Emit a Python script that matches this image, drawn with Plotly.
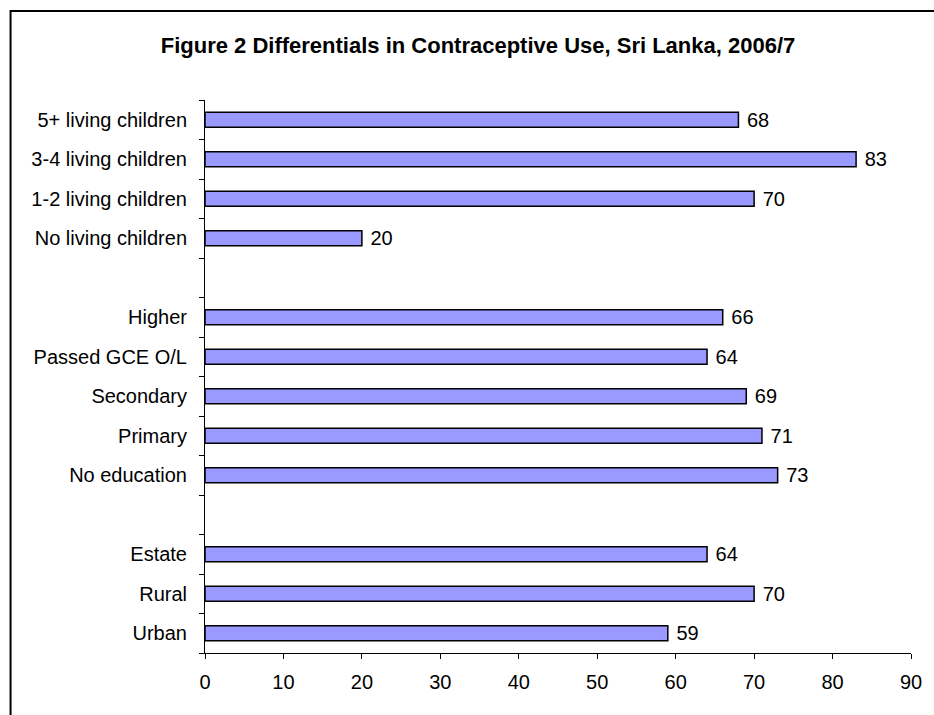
import plotly.graph_objects as go

categories = ["Urban", "Rural", "Estate", " ", "No education", "Primary", "Secondary",
              "Passed GCE O/L", "Higher", "  ", "No living children", "1-2 living children",
              "3-4 living children", "5+ living children"]
values = [59, 70, 64, None, 73, 71, 69, 64, 66, None, 20, 70, 83, 68]
labels = [" " + str(v) if v is not None else "" for v in values]
x_ticks = [0, 10, 20, 30, 40, 50, 60, 70, 80, 90]

W, H = 934, 715
L, R, T, B = 205, 21, 100, 62
pw, ph = W - L - R, H - T - B
FONT = "Liberation Sans, Arial"

fig = go.Figure(go.Bar(
    y=categories, x=values, orientation="h",
    marker=dict(color="#9999FF", line=dict(color="black", width=1.5)),
    text=labels, textposition="outside", cliponaxis=False, constraintext="none",
    textfont=dict(family=FONT, size=20, color="black"),
    width=0.38,
))

fig.update_layout(
    width=W, height=H,
    margin=dict(l=L, r=R, t=T, b=B),
    paper_bgcolor="white", plot_bgcolor="white",
    showlegend=False,
    font=dict(family=FONT, size=20, color="black"),
    title=dict(text="<b>Figure 2 Differentials in Contraceptive Use, Sri Lanka, 2006/7</b>",
               x=478 / W, xanchor="center", xref="container", y=1 - 45 / H, yanchor="middle",
               yref="container",
               font=dict(size=22, family=FONT, color="black")),
    xaxis=dict(range=[0, 90], tickvals=x_ticks, showgrid=False, zeroline=False,
               showline=True, linecolor="black", linewidth=1,
               ticks="outside", ticklen=5, tickcolor="black",
               tickfont=dict(size=20), ticklabelstandoff=6, fixedrange=True),
    yaxis=dict(type="category", categoryorder="array", categoryarray=categories,
               showgrid=False, showline=True, linecolor="black", linewidth=1,
               ticks="outside", ticklen=5, tickcolor="black", tickson="boundaries",
               tickfont=dict(size=20), ticklabelstandoff=13, range=[-0.5, 13.5]),
    shapes=[dict(type="rect", xref="paper", yref="paper",
                 x0=(10 - L) / pw, x1=(W + 10 - L) / pw,
                 y0=-(B + 10) / ph, y1=1 + (T - 11) / ph,
                 line=dict(color="black", width=2), fillcolor="rgba(0,0,0,0)", layer="below")],
)

fig.write_html("out.html")
